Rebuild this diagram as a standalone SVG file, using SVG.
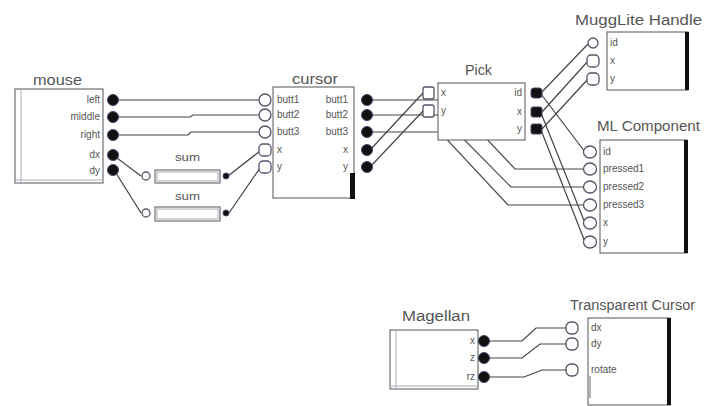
<svg xmlns="http://www.w3.org/2000/svg" width="705" height="406" viewBox="0 0 705 406">
<style>
.box{fill:#fff;stroke:#555;stroke-width:1}
.inner{fill:none;stroke:#aab;stroke-width:1}
.in{fill:#fff;stroke:#556;stroke-width:1.3}
.out{fill:#111;stroke:#446;stroke-width:1}
.bar{fill:#111}
.title{font-family:"Liberation Sans",Arial,sans-serif;font-size:14px;fill:#555}
.lbl{font-family:"Liberation Sans",Arial,sans-serif;font-size:10px;fill:#555}
.r{text-anchor:end}
.wire{fill:none;stroke:#444;stroke-width:1.2}
</style>
<rect width="705" height="406" fill="#fff"/>
<g id="connectors">
<path class="wire" d="M118,100 H259"/>
<path class="wire" d="M118,117 H190 L193,115 H259"/>
<path class="wire" d="M118,135 H188 L191,132 H259"/>
<path class="wire" d="M117,158 L141,176"/>
<path class="wire" d="M116,173 L141,213"/>
<path class="wire" d="M228,176 L260,151"/>
<path class="wire" d="M229,213 L260,168"/>
<path class="wire" d="M372,100 H450 L515,169 H584"/>
<path class="wire" d="M372,115 H440 L511,187 H584"/>
<path class="wire" d="M372,132 H440 L508,205 H584"/>
<path class="wire" d="M370,150 L423,93"/>
<path class="wire" d="M370,167 L423,111"/>
<path class="wire" d="M541,93 L588,44"/>
<path class="wire" d="M542,112 L588,61"/>
<path class="wire" d="M542,129 L588,79"/>
<path class="wire" d="M541,94 L585,152"/>
<path class="wire" d="M541,113 L585,223"/>
<path class="wire" d="M541,130 L585,242"/>
<path class="wire" d="M488,341 H522 L536,328 H567"/>
<path class="wire" d="M488,358 H522 L540,344 H567"/>
<path class="wire" d="M488,377 H524 L542,370 H567"/>
</g>
<g id="mouse">
<text class="title" x="33" y="85" textLength="49" lengthAdjust="spacingAndGlyphs">mouse</text>
<rect class="box" x="15" y="89" width="88" height="94"/>
<line class="inner" x1="21" y1="90" x2="21" y2="182"/>
<line class="inner" x1="16" y1="180" x2="102" y2="180"/>
<text class="lbl r" x="100" y="103">left</text>
<text class="lbl r" x="100" y="120">middle</text>
<text class="lbl r" x="100" y="138">right</text>
<text class="lbl r" x="100" y="158">dx</text>
<text class="lbl r" x="100" y="174">dy</text>
<circle class="out" cx="113" cy="100" r="5.5"/>
<circle class="out" cx="113" cy="117" r="5.5"/>
<circle class="out" cx="113" cy="135" r="5.5"/>
<circle class="out" cx="113" cy="155" r="5.5"/>
<circle class="out" cx="113" cy="170" r="5.5"/>
</g>
<g id="sum1">
<text class="title" x="175" y="161" style="font-size:11px" textLength="25" lengthAdjust="spacingAndGlyphs">sum</text>
<rect class="box" x="155" y="170" width="65" height="13"/>
<rect class="inner" x="157" y="172" width="61" height="9"/>
<circle class="in" cx="146" cy="176" r="4"/>
<circle class="out" cx="226" cy="176" r="3"/>
</g>
<g id="sum2">
<text class="title" x="175" y="200" style="font-size:11px" textLength="25" lengthAdjust="spacingAndGlyphs">sum</text>
<rect class="box" x="155" y="207" width="65" height="14"/>
<rect class="inner" x="157" y="209" width="61" height="10"/>
<circle class="in" cx="146" cy="213" r="4"/>
<circle class="out" cx="226" cy="213" r="3"/>
</g>
<g id="cursor">
<text class="title" x="292" y="84" textLength="46" lengthAdjust="spacingAndGlyphs">cursor</text>
<rect class="box" x="273" y="87" width="81" height="111"/>
<rect class="bar" x="350" y="173" width="5" height="26"/>
<text class="lbl" x="277" y="103">butt1</text>
<text class="lbl" x="277" y="118">butt2</text>
<text class="lbl" x="277" y="135">butt3</text>
<text class="lbl" x="277" y="153">x</text>
<text class="lbl" x="277" y="170">y</text>
<text class="lbl r" x="348" y="103">butt1</text>
<text class="lbl r" x="348" y="118">butt2</text>
<text class="lbl r" x="348" y="135">butt3</text>
<text class="lbl r" x="348" y="153">x</text>
<text class="lbl r" x="348" y="170">y</text>
<circle class="in" cx="265" cy="100" r="6"/>
<circle class="in" cx="265" cy="115" r="6"/>
<circle class="in" cx="265" cy="132" r="6"/>
<rect class="in" x="259" y="144" width="12" height="12" rx="4" style="stroke:#557"/>
<rect class="in" x="259" y="161" width="12" height="12" rx="4" style="stroke:#557"/>
<circle class="out" cx="367" cy="100" r="5.5"/>
<circle class="out" cx="367" cy="115" r="5.5"/>
<circle class="out" cx="367" cy="132" r="5.5"/>
<circle class="out" cx="367" cy="150" r="5.5"/>
<circle class="out" cx="367" cy="167" r="5.5"/>
</g>
<g id="pick">
<text class="title" x="465" y="75" textLength="27" lengthAdjust="spacingAndGlyphs">Pick</text>
<rect class="box" x="438" y="83" width="87" height="57"/>
<text class="lbl" x="441" y="96">x</text>
<text class="lbl" x="441" y="114">y</text>
<text class="lbl r" x="522" y="96">id</text>
<text class="lbl r" x="522" y="115">x</text>
<text class="lbl r" x="522" y="132">y</text>
<rect class="in" x="423" y="87" width="11" height="12" rx="2"/>
<rect class="in" x="423" y="105" width="11" height="12" rx="2"/>
<rect class="out" x="531" y="88" width="11" height="10" rx="3"/>
<rect class="out" x="531" y="107" width="11" height="10" rx="2"/>
<rect class="out" x="531" y="124" width="11" height="10" rx="2"/>
</g>
<g id="mugglite-handle">
<text class="title" x="575" y="25" textLength="127" lengthAdjust="spacingAndGlyphs">MuggLite Handle</text>
<rect class="box" x="607" y="32" width="81" height="58"/>
<rect class="bar" x="685" y="32" width="4" height="58"/>
<text class="lbl" x="610" y="46">id</text>
<text class="lbl" x="610" y="64">x</text>
<text class="lbl" x="610" y="82">y</text>
<circle class="in" cx="593" cy="43" r="5"/>
<rect class="in" x="587" y="55" width="12" height="12" rx="4"/>
<rect class="in" x="587" y="73" width="12" height="12" rx="4"/>
</g>
<g id="ml-component">
<text class="title" x="597" y="131" textLength="103" lengthAdjust="spacingAndGlyphs">ML Component</text>
<rect class="box" x="600" y="140" width="87" height="113"/>
<rect class="bar" x="684" y="140" width="4" height="113"/>
<text class="lbl" x="603" y="155">id</text>
<text class="lbl" x="603" y="172">pressed1</text>
<text class="lbl" x="603" y="190">pressed2</text>
<text class="lbl" x="603" y="208">pressed3</text>
<text class="lbl" x="603" y="226">x</text>
<text class="lbl" x="603" y="245">y</text>
<ellipse class="in" cx="590" cy="152" rx="6.5" ry="6"/>
<ellipse class="in" cx="590" cy="169" rx="6.5" ry="6"/>
<ellipse class="in" cx="590" cy="187" rx="6.5" ry="6"/>
<ellipse class="in" cx="590" cy="205" rx="6.5" ry="6"/>
<ellipse class="in" cx="590" cy="223" rx="6.5" ry="6"/>
<ellipse class="in" cx="590" cy="242" rx="6.5" ry="6"/>
</g>
<g id="magellan">
<text class="title" x="402" y="321" textLength="68" lengthAdjust="spacingAndGlyphs">Magellan</text>
<rect class="box" x="390" y="330" width="88" height="59"/>
<line class="inner" x1="396" y1="331" x2="396" y2="388"/>
<line class="inner" x1="391" y1="386" x2="477" y2="386"/>
<text class="lbl r" x="475" y="344">x</text>
<text class="lbl r" x="475" y="361">z</text>
<text class="lbl r" x="475" y="380">rz</text>
<circle class="out" cx="484" cy="341" r="5.5"/>
<circle class="out" cx="484" cy="358" r="5.5"/>
<circle class="out" cx="484" cy="377" r="5.5"/>
</g>
<g id="transparent-cursor">
<text class="title" x="570" y="310" textLength="125" lengthAdjust="spacingAndGlyphs">Transparent Cursor</text>
<rect class="box" x="588" y="318" width="82" height="87"/>
<rect class="bar" x="667" y="318" width="4" height="87"/>
<line class="inner" x1="590" y1="376" x2="590" y2="398" style="stroke:#666"/>
<text class="lbl" x="591" y="331">dx</text>
<text class="lbl" x="591" y="347">dy</text>
<text class="lbl" x="591" y="373">rotate</text>
<rect class="in" x="566" y="322" width="12" height="12" rx="5"/>
<rect class="in" x="566" y="338" width="12" height="12" rx="5"/>
<rect class="in" x="566" y="364" width="12" height="12" rx="5"/>
</g>
</svg>
